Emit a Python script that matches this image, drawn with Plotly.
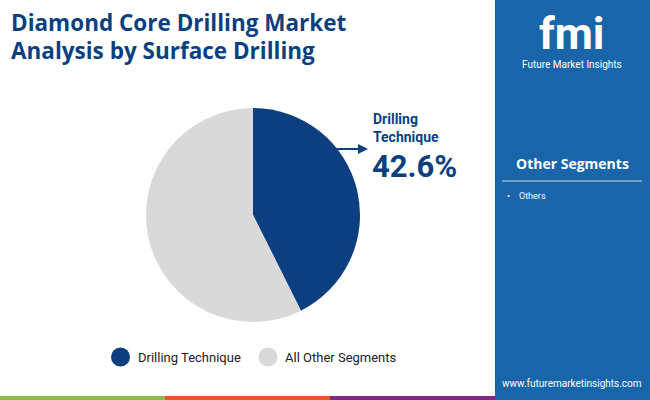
import plotly.graph_objects as go

labels = ["Drilling Technique", "All Other Segments"]
values = [42.6, 57.4]
colors = ["#0b3f7f", "#d9d9d9"]
W, H = 650, 400


def px(x):
    return x / W


def py(y):
    return 1 - y / H


fig = go.Figure(go.Pie(
    labels=labels, values=values, sort=False, direction="clockwise", rotation=0,
    marker=dict(colors=colors, line=dict(width=0)), textinfo="none", showlegend=False,
    domain=dict(x=[px(146), px(360)], y=[py(322), py(108)]),
))

shapes = [
    dict(type="rect", xref="paper", yref="paper", x0=px(495), x1=1, y0=0, y1=1,
         fillcolor="#1865a9", line=dict(width=0), layer="below"),
    dict(type="line", xref="paper", yref="paper", x0=px(502), x1=px(642), y0=py(181), y1=py(181),
         line=dict(color="#8fb4d8", width=1.5)),
    dict(type="rect", xref="paper", yref="paper", x0=0, x1=px(165), y0=0, y1=py(396),
         fillcolor="#8cbf45", line=dict(width=0)),
    dict(type="rect", xref="paper", yref="paper", x0=px(165), x1=px(330), y0=0, y1=py(396),
         fillcolor="#e2582a", line=dict(width=0)),
    dict(type="rect", xref="paper", yref="paper", x0=px(330), x1=px(495), y0=0, y1=py(396),
         fillcolor="#7d2a85", line=dict(width=0)),
]
for cx, c in [(120.5, colors[0]), (268, colors[1])]:
    shapes.append(dict(type="circle", xref="paper", yref="paper",
                       x0=px(cx - 9.5), x1=px(cx + 9.5), y0=py(366.5), y1=py(347.5),
                       fillcolor=c, line=dict(width=0)))

font = "Roboto"
tfont = "Open Sans"
ann = [
    dict(x=px(9), y=py(22), text="<b>Diamond Core Drilling Market</b>", font=dict(size=22.5, color="#0b3f7f", family=tfont)),
    dict(x=px(9), y=py(50), text="<b>Analysis by Surface Drilling</b>", font=dict(size=22.5, color="#0b3f7f", family=tfont)),
    dict(x=px(371), y=py(128), text="<b>Drilling<br>Technique</b>", font=dict(size=14, color="#0b3f7f", family=font), align="left"),
    dict(x=px(370), y=py(166), text="<b>42.6%</b>", font=dict(size=31, color="#0b3f7f", family=font)),
    dict(x=px(136), y=py(357), text="Drilling Technique", font=dict(size=13, color="#222", family=font)),
    dict(x=px(283), y=py(357), text="All Other Segments", font=dict(size=13, color="#222", family=font)),
    dict(x=px(572), y=py(34), xanchor="center", text="<b>fmi</b>", font=dict(size=44, color="white", family=font)),
    dict(x=px(572), y=py(64), xanchor="center", text="Future Market Insights", font=dict(size=10, color="white", family=font)),
    dict(x=px(572), y=py(164), xanchor="center", text="<b>Other Segments</b>", font=dict(size=14, color="white", family=tfont)),
    dict(x=px(505), y=py(196), text="•    Others", font=dict(size=9, color="white", family=font)),
    dict(x=px(572), y=py(383), xanchor="center", text="www.futuremarketinsights.com", font=dict(size=10, color="white", family=font)),
]
annotations = []
for a in ann:
    a.setdefault("xanchor", "left")
    annotations.append(dict(xref="paper", yref="paper", yanchor="middle", showarrow=False, **a))
annotations.append(dict(xref="paper", yref="paper", axref="pixel", ayref="pixel",
                        x=px(368), y=py(149), ax=-34, ay=0, text="", showarrow=True,
                        arrowhead=2, arrowsize=1, arrowwidth=2, arrowcolor="#0b3f7f"))

fig.update_layout(width=W, height=H, margin=dict(l=0, r=0, t=0, b=0),
                  paper_bgcolor="white", shapes=shapes, annotations=annotations)
fig.write_html("out.html", config={"displayModeBar": False},
               post_script="document.body.style.margin='0';")
